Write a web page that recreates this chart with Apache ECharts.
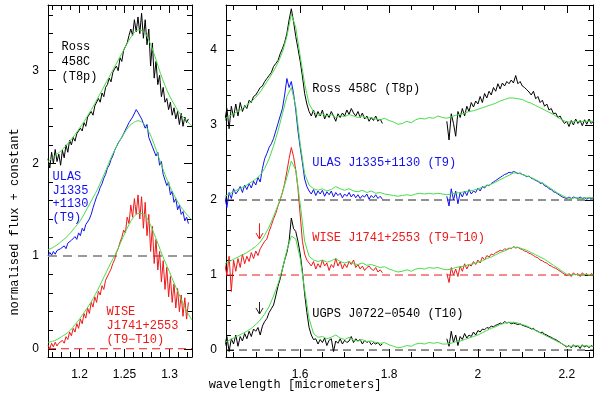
<!DOCTYPE html>
<html><head><meta charset="utf-8">
<script src="https://cdn.jsdelivr.net/npm/echarts@6/dist/echarts.min.js"></script>
<style>html,body{margin:0;padding:0;background:#fff}#c{width:600px;height:393px}</style>
</head><body><div id="c"></div>
<script>
// ---------- wavelength grids (micrometers) ----------
const rightHStart = 1.430, rightKStart = 1.930, rightSpecStep = 0.005;
const rightModelStart = 1.43, rightModelStep = 0.01;
const leftSpecStart = 1.165, leftSpecStep = 0.002;
const leftModelStart = 1.165, leftModelStep = 0.005;

// ---------- right panel: observed spectra (flux + constant) ----------
const rossH = [3.05,3.22,2.95,3.25,3.10,3.28,3.12,3.30,3.18,3.26,3.22,3.33,3.30,3.38,3.40,3.45,3.50,3.52,3.58,3.62,3.66,3.70,3.78,3.82,3.86,3.95,4.02,4.10,4.22,4.40,4.55,4.38,4.18,4.02,3.85,3.65,3.42,3.28,3.18,3.12,3.20,3.10,3.18,3.12,3.20,3.08,3.15,3.10,3.18,3.12,3.05,3.15,3.10,3.16,3.12,3.20,3.14,3.22,3.16,3.12,3.18,3.10,3.16,3.08,3.12,3.05,3.10,3.06,3.12,3.05,3.08,3.02];
const rossK = [3.05,2.80,3.15,3.02,2.85,3.18,3.10,3.22,3.12,3.25,3.18,3.30,3.24,3.32,3.28,3.38,3.30,3.42,3.36,3.45,3.40,3.50,3.45,3.55,3.48,3.56,3.52,3.58,3.55,3.60,3.56,3.66,3.55,3.58,3.52,3.50,3.47,3.44,3.40,3.45,3.35,3.38,3.30,3.33,3.25,3.28,3.20,3.22,3.15,3.16,3.10,3.12,3.06,3.02,3.05,2.98,3.06,3.00,3.08,3.02,3.06,2.99,3.07,3.01,3.08,3.02,3.05];
const ulasH = [2.05,1.90,2.10,2.02,2.15,2.08,2.12,2.18,2.10,2.20,2.14,2.22,2.16,2.25,2.20,2.30,2.24,2.42,2.55,2.62,2.70,2.75,2.82,2.92,3.02,3.12,3.22,3.40,3.62,3.50,3.58,3.42,3.20,2.92,2.70,2.50,2.28,2.18,2.12,2.08,2.14,2.06,2.12,2.08,2.13,2.05,2.11,2.07,2.12,2.04,2.10,2.06,2.09,2.03,2.08,2.05,2.10,2.04,2.08,2.03,2.07,2.02,2.06,2.04,2.08,2.01,2.06,2.03,2.07,2.02,2.05,2.01];
const ulasK = [2.05,1.92,2.15,2.00,2.12,1.95,2.10,2.04,2.12,2.06,2.14,2.08,2.12,2.10,2.16,2.12,2.18,2.16,2.20,2.19,2.22,2.24,2.26,2.28,2.30,2.32,2.34,2.35,2.37,2.36,2.38,2.37,2.35,2.36,2.34,2.33,2.31,2.32,2.29,2.28,2.26,2.25,2.22,2.23,2.19,2.18,2.15,2.14,2.11,2.10,2.08,2.06,2.04,2.03,2.02,2.04,2.02,2.04,2.03,2.02,2.04,2.02,2.03,2.01,2.03,2.02,2.03];
const wiseH = [1.15,1.00,1.25,0.78,1.20,1.05,1.22,1.10,1.28,1.15,1.25,1.18,1.30,1.22,1.32,1.26,1.35,1.40,1.45,1.48,1.58,1.66,1.75,1.82,1.92,2.00,2.10,2.22,2.38,2.55,2.70,2.58,2.40,2.15,1.80,1.45,1.28,1.20,1.16,1.12,1.18,1.08,1.15,1.10,1.20,1.12,1.16,1.06,1.14,1.10,1.22,1.12,1.18,1.08,1.15,1.10,1.18,1.14,1.20,1.10,1.14,1.08,1.12,1.06,1.10,1.12,1.08,1.06,1.10,1.04,1.07,1.03];
const wiseK = [1.02,0.90,1.10,1.00,1.08,0.98,1.12,1.05,1.15,1.08,1.14,1.12,1.18,1.14,1.20,1.16,1.24,1.20,1.26,1.24,1.28,1.27,1.30,1.31,1.33,1.32,1.35,1.34,1.36,1.35,1.38,1.36,1.37,1.35,1.34,1.32,1.31,1.29,1.28,1.26,1.24,1.23,1.20,1.19,1.17,1.16,1.13,1.12,1.10,1.09,1.07,1.05,1.03,1.01,0.99,1.02,0.98,1.03,1.00,1.02,0.98,1.03,1.00,1.02,0.99,1.02,1.00];
const ugpsH = [0.05,0.18,-0.02,0.15,0.08,0.20,0.05,0.18,0.12,0.22,0.15,0.25,0.18,0.28,0.25,0.30,0.20,0.32,0.38,0.42,0.50,0.55,0.60,0.72,0.85,0.95,1.08,1.20,1.30,1.45,1.76,1.62,1.58,1.45,1.28,1.05,0.75,0.50,0.30,0.20,0.14,0.15,0.08,0.14,0.10,0.16,0.06,0.13,0.15,-0.02,0.12,0.09,0.15,0.08,0.13,0.10,0.12,0.18,0.10,0.15,0.12,0.14,0.08,0.13,0.10,0.12,0.07,0.10,0.08,0.10,0.06,0.08];
const ugpsK = [0.15,0.05,0.25,0.10,0.20,0.06,0.18,0.14,0.22,0.16,0.20,0.18,0.24,0.20,0.26,0.24,0.28,0.27,0.30,0.29,0.32,0.31,0.33,0.34,0.36,0.35,0.38,0.36,0.37,0.35,0.36,0.35,0.34,0.35,0.33,0.32,0.31,0.30,0.28,0.29,0.26,0.25,0.23,0.24,0.21,0.20,0.18,0.17,0.15,0.14,0.12,0.10,0.08,0.06,0.04,0.06,0.03,0.07,0.04,0.06,0.02,0.07,0.04,0.06,0.03,0.06,0.04];

// ---------- right panel: model spectra ----------
const rossModel = [3.08,3.12,3.15,3.18,3.22,3.27,3.31,3.37,3.44,3.53,3.62,3.72,3.83,3.97,4.18,4.48,4.30,3.92,3.55,3.28,3.18,3.13,3.15,3.12,3.14,3.10,3.13,3.11,3.14,3.12,3.10,3.12,3.09,3.10,3.08,3.07,3.09,3.06,3.04,3.01,3.02,3.05,3.03,3.07,3.09,3.08,3.10,3.09,3.12,3.10,3.09,3.11,3.13,3.14,3.16,3.18,3.19,3.21,3.23,3.25,3.27,3.29,3.32,3.34,3.36,3.36,3.35,3.34,3.31,3.29,3.26,3.23,3.20,3.17,3.14,3.10,3.07,3.04,3.04,3.05,3.04,3.05,3.05,3.05];
const ulasModel = [2.05,2.08,2.11,2.14,2.17,2.20,2.24,2.28,2.33,2.42,2.55,2.72,2.92,3.15,3.38,3.50,3.25,2.75,2.35,2.20,2.15,2.13,2.15,2.12,2.14,2.18,2.15,2.13,2.15,2.12,2.11,2.13,2.10,2.12,2.09,2.10,2.08,2.07,2.06,2.05,2.06,2.07,2.06,2.08,2.09,2.08,2.09,2.08,2.09,2.08,2.07,2.08,2.09,2.10,2.11,2.12,2.13,2.15,2.17,2.19,2.21,2.24,2.27,2.30,2.33,2.36,2.36,2.34,2.32,2.30,2.27,2.24,2.21,2.17,2.13,2.09,2.06,2.03,2.02,2.03,2.02,2.03,2.03,2.03];
const wiseModel = [1.15,1.18,1.21,1.24,1.27,1.30,1.34,1.38,1.44,1.53,1.64,1.78,1.93,2.10,2.30,2.52,2.40,1.95,1.45,1.25,1.20,1.18,1.20,1.17,1.19,1.22,1.18,1.16,1.18,1.15,1.14,1.16,1.13,1.14,1.12,1.10,1.11,1.08,1.06,1.04,1.05,1.07,1.05,1.08,1.09,1.08,1.10,1.09,1.10,1.08,1.07,1.08,1.10,1.11,1.12,1.14,1.15,1.17,1.19,1.22,1.24,1.27,1.30,1.32,1.35,1.37,1.37,1.35,1.33,1.30,1.27,1.24,1.21,1.17,1.13,1.09,1.05,1.01,1.00,1.01,1.00,1.01,1.00,1.00];
const ugpsModel = [0.10,0.13,0.16,0.19,0.22,0.25,0.29,0.34,0.40,0.48,0.58,0.72,0.88,1.08,1.33,1.52,1.48,1.22,0.80,0.42,0.22,0.17,0.18,0.15,0.17,0.20,0.16,0.14,0.17,0.13,0.12,0.14,0.11,0.12,0.10,0.09,0.10,0.07,0.05,0.03,0.04,0.06,0.05,0.08,0.09,0.08,0.10,0.09,0.10,0.08,0.08,0.09,0.11,0.12,0.14,0.16,0.18,0.20,0.23,0.26,0.29,0.31,0.34,0.36,0.37,0.37,0.36,0.34,0.32,0.29,0.26,0.23,0.20,0.17,0.14,0.11,0.08,0.05,0.05,0.06,0.05,0.06,0.05,0.05];

// ---------- left panel (J band zoom): observed spectra ----------
const rossJ = [2.05,1.95,2.12,2.00,2.15,2.02,2.10,1.98,2.14,2.06,2.20,2.12,2.25,2.20,2.28,2.24,2.32,2.30,2.38,2.35,2.44,2.40,2.50,2.48,2.56,2.52,2.62,2.60,2.70,2.66,2.76,2.72,2.82,2.85,2.92,2.88,2.98,3.02,3.05,3.00,3.14,3.10,3.22,3.20,3.30,3.38,3.45,3.38,3.55,3.42,3.58,3.40,3.62,3.35,3.55,3.28,3.45,3.05,3.30,2.92,3.10,2.85,2.95,2.72,2.82,2.66,2.70,2.58,2.66,2.52,2.60,2.48,2.56,2.42,2.54,2.40,2.50,2.44,2.48];
const ulasJ = [1.00,1.04,1.01,1.05,1.02,1.06,1.04,1.08,1.06,1.11,1.08,1.14,1.12,1.17,1.15,1.21,1.18,1.25,1.22,1.30,1.27,1.34,1.32,1.40,1.45,1.52,1.58,1.64,1.68,1.74,1.78,1.84,1.88,1.95,1.98,2.04,2.08,2.14,2.16,2.22,2.24,2.28,2.32,2.36,2.38,2.44,2.42,2.50,2.52,2.58,2.55,2.57,2.48,2.50,2.38,2.42,2.28,2.30,2.18,2.20,2.08,2.12,1.98,2.02,1.88,1.90,1.76,1.80,1.66,1.70,1.58,1.62,1.50,1.55,1.45,1.48,1.38,1.42,1.35];
const wiseJ = [0.04,0.00,0.06,0.02,0.07,0.03,0.06,0.04,0.09,0.06,0.13,0.10,0.18,0.14,0.22,0.18,0.27,0.22,0.32,0.27,0.38,0.33,0.44,0.38,0.50,0.45,0.56,0.50,0.62,0.58,0.68,0.64,0.74,0.72,0.82,0.86,0.92,0.96,1.04,1.08,1.15,1.20,1.28,1.25,1.42,1.35,1.55,1.42,1.62,1.45,1.66,1.40,1.64,1.30,1.58,1.22,1.45,1.05,1.32,0.92,1.18,0.85,1.05,0.72,0.95,0.64,0.88,0.56,0.78,0.50,0.70,0.44,0.65,0.40,0.58,0.35,0.55,0.32,0.50];

// ---------- left panel: model spectra ----------
const rossJModel = [2.02,2.06,2.10,2.14,2.19,2.25,2.31,2.38,2.45,2.53,2.61,2.70,2.79,2.88,2.97,3.06,3.15,3.24,3.33,3.40,3.44,3.43,3.37,3.26,3.12,2.97,2.84,2.73,2.64,2.56,2.50,2.45,2.40];
const ulasJModel = [1.07,1.09,1.12,1.16,1.20,1.25,1.31,1.37,1.45,1.54,1.63,1.72,1.83,1.94,2.06,2.16,2.25,2.33,2.40,2.44,2.46,2.44,2.38,2.28,2.15,2.01,1.88,1.76,1.66,1.57,1.50,1.44,1.39];
const wiseJModel = [0.07,0.08,0.10,0.13,0.16,0.20,0.26,0.32,0.39,0.46,0.54,0.63,0.73,0.83,0.93,1.02,1.13,1.24,1.34,1.42,1.46,1.46,1.41,1.31,1.19,1.06,0.94,0.83,0.71,0.60,0.49,0.39,0.31];

// ---------- baselines (zero levels of each offset spectrum) ----------
const rightBaselines = [0, 1, 2];
const leftBaselines = [0, 1];

// ---------- tick labels ----------
const leftXTicks = [1.2, 1.25, 1.3];
const leftYTicks = [0, 1, 2, 3];
const rightXTicks = [1.6, 1.8, 2, 2.2];
const rightYTicks = [0, 1, 2, 3, 4];

// ---------- text ----------
const rightLabels = ['Ross 458C (T8p)', 'ULAS J1335+1130 (T9)', 'WISE J1741+2553 (T9\u2212T10)', 'UGPS J0722\u22120540 (T10)'];
const leftLabels = ['Ross\n458C\n(T8p)', 'ULAS\nJ1335\n+1130\n(T9)', 'WISE\nJ1741+2553\n(T9\u2212T10)'];
const xTitle = 'wavelength [micrometers]';
const yTitle = 'normalised flux + constant';

// ---------- build ----------
function pairs(start, step, arr) { return arr.map((v, i) => [+(start + i * step).toFixed(4), v]); }

const C_BLACK = '#000000', C_BLUE = '#1010f0', C_RED = '#f01818', C_GREEN = '#48dc48';
const MONO = '"Liberation Mono", "DejaVu Sans Mono", monospace';
const SANS = '"Liberation Sans", Arial, sans-serif';

const LX = [1.165, 1.325], LY = [-0.089, 3.709], RX = [1.433, 2.259], RY = [-0.093, 4.6];

function lineS(data, color, gi, extra) {
  return Object.assign({
    type: 'line', data: data, xAxisIndex: gi, yAxisIndex: gi,
    showSymbol: false, symbol: 'none', silent: true, animation: false,
    lineStyle: { color: color, width: 1 }, clip: true
  }, extra || {});
}
function baseS(gi, ext, v, color, width, pattern) {
  return lineS([[ext[0], v], [ext[1], v]], color, gi, { lineStyle: { color: color, width: width, type: pattern }, z: 1 });
}

// splitNumber gives nice intervals of 0.05 / 0.2 (x) and 1 (y); minor ticks subdivide them
function axis(kind, grid, pos, ext, labels, showLabel, split, minorSplit) {
  return {
    type: 'value', gridIndex: grid, position: pos, min: ext[0], max: ext[1], splitNumber: split,
    axisLine: { show: true, onZero: false, lineStyle: { color: '#000', width: 1 } },
    axisTick: { show: true, inside: true, length: 8, lineStyle: { color: '#000', width: 1 } },
    minorTick: { show: true, splitNumber: minorSplit, length: 5, lineStyle: { color: '#000', width: 1 } },
    splitLine: { show: false }, minorSplitLine: { show: false },
    axisLabel: { show: showLabel, customValues: labels, margin: kind === 'x' ? 12 : 9, color: '#000', fontSize: 12, fontFamily: SANS }
  };
}

const xAxes = [
  axis('x', 0, 'bottom', LX, leftXTicks, true, 3, 5),
  axis('x', 1, 'bottom', RX, rightXTicks, true, 4, 4),
  axis('x', 0, 'top', LX, leftXTicks, false, 3, 5),
  axis('x', 1, 'top', RX, rightXTicks, false, 4, 4)
];
const yAxes = [
  axis('y', 0, 'left', LY, leftYTicks, true, 4, 5),
  axis('y', 1, 'left', RY, rightYTicks, true, 5, 5),
  axis('y', 0, 'right', LY, leftYTicks, false, 4, 5),
  axis('y', 1, 'right', RY, rightYTicks, false, 5, 5)
];
const L = 0, R = 1;

const dash = [8, 5];
const series = [
  baseS(R, RX, rightBaselines[0], '#222222', 1, dash),
  baseS(R, RX, rightBaselines[1], C_RED, 1, dash),
  baseS(R, RX, rightBaselines[2], '#222222', 1, dash),
  baseS(L, LX, leftBaselines[0], C_RED, 1, dash),
  baseS(L, LX, leftBaselines[1], '#9a9a9a', 2, [9, 6]),
  lineS(pairs(rightHStart, rightSpecStep, rossH), C_BLACK, R),
  lineS(pairs(rightKStart, rightSpecStep, rossK), C_BLACK, R),
  lineS(pairs(rightModelStart, rightModelStep, rossModel), C_GREEN, R),
  lineS(pairs(rightHStart, rightSpecStep, ulasH), C_BLUE, R),
  lineS(pairs(rightKStart, rightSpecStep, ulasK), C_BLUE, R),
  lineS(pairs(rightModelStart, rightModelStep, ulasModel), C_GREEN, R),
  lineS(pairs(rightHStart, rightSpecStep, wiseH), C_RED, R),
  lineS(pairs(rightKStart, rightSpecStep, wiseK), C_RED, R),
  lineS(pairs(rightModelStart, rightModelStep, wiseModel), C_GREEN, R),
  lineS(pairs(rightHStart, rightSpecStep, ugpsH), C_BLACK, R),
  lineS(pairs(rightKStart, rightSpecStep, ugpsK), C_BLACK, R),
  lineS(pairs(rightModelStart, rightModelStep, ugpsModel), C_GREEN, R),
  lineS(pairs(leftSpecStart, leftSpecStep, rossJ), C_BLACK, L),
  lineS(pairs(leftModelStart, leftModelStep, rossJModel), C_GREEN, L, { smooth: 0.3 }),
  lineS(pairs(leftSpecStart, leftSpecStep, ulasJ), C_BLUE, L),
  lineS(pairs(leftModelStart, leftModelStep, ulasJModel), C_GREEN, L, { smooth: 0.3 }),
  lineS(pairs(leftSpecStart, leftSpecStep, wiseJ), C_RED, L),
  lineS(pairs(leftModelStart, leftModelStep, wiseJModel), C_GREEN, L, { smooth: 0.3 })
];

const chart = echarts.init(document.getElementById('c'), null, { renderer: 'canvas' });
chart.setOption({
  animation: false,
  backgroundColor: '#fff',
  grid: [
    { left: 48, top: 5, width: 144, height: 352 },
    { left: 226, top: 5, width: 367, height: 352 }
  ],
  xAxis: xAxes,
  yAxis: yAxes,
  series: series
});

// ---------- annotations placed through the axes ----------
const rightLabelAnchors = [[1.627, 3.48], [1.627, 2.49], [1.627, 1.49], [1.627, 0.48]];
const rightLabelColors = [C_BLACK, C_BLUE, C_RED, C_BLACK];
const leftLabelAnchors = [[1.18, 3.335], [1.17, 1.928], [1.23, 0.471]];
const leftLabelColors = [C_BLACK, C_BLUE, C_RED];
const leftLabelLineH = [15, 13.7, 14];
const arrowTops = [[1.508, 1.69], [1.508, 0.64]];
const arrowBottoms = [[1.508, 1.48], [1.508, 0.48]];
const arrowColors = [C_RED, '#222222'];

const g = [];
rightLabels.forEach((t, i) => {
  const p = chart.convertToPixel({ gridIndex: 1 }, rightLabelAnchors[i]);
  g.push({ type: 'text', x: p[0], y: p[1], silent: true,
    style: { text: t, fill: rightLabelColors[i], fontSize: 12, fontFamily: MONO, align: 'left', verticalAlign: 'middle' } });
});
leftLabels.forEach((t, i) => {
  const p = chart.convertToPixel({ gridIndex: 0 }, leftLabelAnchors[i]);
  g.push({ type: 'text', x: p[0], y: p[1], silent: true,
    style: { text: t, fill: leftLabelColors[i], fontSize: 12, fontFamily: MONO, align: 'left', verticalAlign: 'top', lineHeight: leftLabelLineH[i] } });
});
arrowTops.forEach((a, i) => {
  const p0 = chart.convertToPixel({ gridIndex: 1 }, a);
  const p1 = chart.convertToPixel({ gridIndex: 1 }, arrowBottoms[i]);
  const x = Math.round(p0[0]) + 0.5;
  g.push({ type: 'polyline', silent: true, shape: { points: [[x, p0[1]], [x, p1[1]]] },
    style: { stroke: arrowColors[i], lineWidth: 1, fill: null } });
  g.push({ type: 'polyline', silent: true, shape: { points: [[x - 3.5, p1[1] - 6], [x, p1[1]], [x + 3.5, p1[1] - 6]] },
    style: { stroke: arrowColors[i], lineWidth: 1, fill: null } });
});
const xt = chart.convertToPixel({ gridIndex: 1 }, [1.43, 0]);
g.push({ type: 'text', x: xt[0] - 16, y: 385, silent: true,
  style: { text: xTitle, fill: '#000', fontSize: 12, fontFamily: MONO, align: 'left', verticalAlign: 'middle' } });
g.push({ type: 'text', x: 15, y: 222, rotation: Math.PI / 2, silent: true,
  style: { text: yTitle, fill: '#000', fontSize: 12, fontFamily: MONO, align: 'center', verticalAlign: 'middle' } });
chart.setOption({ graphic: g });
</script>
</body></html>
